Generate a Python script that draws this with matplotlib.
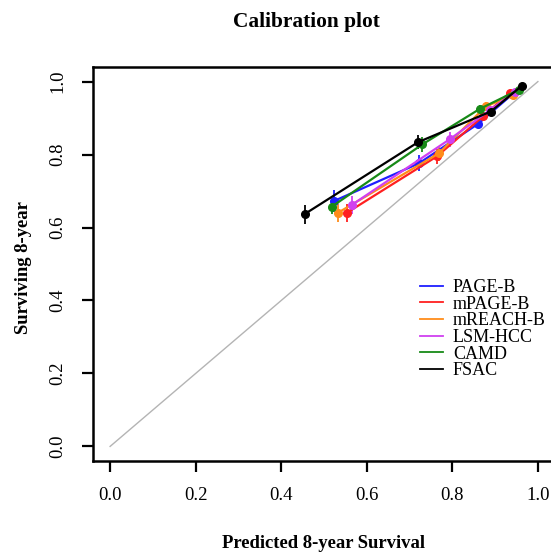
import matplotlib
matplotlib.use('Agg')
import matplotlib.pyplot as plt

plt.rcParams['font.family'] = ['Liberation Serif', 'DejaVu Serif']

# models shown in the legend (order as in legend)
models = ['PAGE-B', 'mPAGE-B', 'mREACH-B', 'LSM-HCC', 'CAMD', 'FSAC']
colors = ['#1f1fff', '#ff2020', '#ff8c1a', '#d040f0', '#178a17', 'black']

# predicted survival (x) and observed survival (y) per risk group
pred_pageb = [0.524, 0.722, 0.860, 0.940]
obs_pageb = [0.673, 0.776, 0.884, 0.965]
err_pageb = [0.031, 0.022, 0.012, 0.007]

pred_mpageb = [0.553, 0.764, 0.872, 0.935]
obs_mpageb = [0.640, 0.795, 0.905, 0.970]
err_mpageb = [0.024, 0.020, 0.012, 0.007]

pred_mreachb = [0.532, 0.768, 0.878, 0.942]
obs_mreachb = [0.640, 0.803, 0.932, 0.962]
err_mreachb = [0.025, 0.020, 0.012, 0.007]

pred_lsmhcc = [0.565, 0.794, 0.888, 0.946]
obs_lsmhcc = [0.662, 0.842, 0.922, 0.972]
err_lsmhcc = [0.024, 0.020, 0.012, 0.007]

pred_camd = [0.518, 0.730, 0.864, 0.956]
obs_camd = [0.657, 0.828, 0.925, 0.978]
err_camd = [0.020, 0.020, 0.012, 0.007]

pred_fsac = [0.455, 0.720, 0.890, 0.962]
obs_fsac = [0.637, 0.834, 0.918, 0.988]
err_fsac = [0.026, 0.020, 0.012, 0.006]

preds = [pred_pageb, pred_mpageb, pred_mreachb, pred_lsmhcc, pred_camd, pred_fsac]
obs = [obs_pageb, obs_mpageb, obs_mreachb, obs_lsmhcc, obs_camd, obs_fsac]
errs = [err_pageb, err_mpageb, err_mreachb, err_lsmhcc, err_camd, err_fsac]

ticks = [0.0, 0.2, 0.4, 0.6, 0.8, 1.0]
tick_labels = ['0.0', '0.2', '0.4', '0.6', '0.8', '1.0']

fig = plt.figure(figsize=(5.51, 5.56), dpi=100)
ax = fig.add_axes([93 / 551, 1 - 461 / 556, 462 / 551, 394 / 556])

# reference line
ax.plot([0, 1], [0, 1], color='#b4b4b4', lw=1.0, zorder=1)

handles = []
for name, c, x, y, e in zip(models, colors, preds, obs, errs):
    ax.errorbar(x, y, yerr=e, fmt='none', ecolor=c, elinewidth=1.3, capsize=0, zorder=2)
    ax.plot(x, y, color=c, lw=1.6, marker='o', markersize=5.5, zorder=3)
    h, = ax.plot([], [], color=c, lw=1.3)
    handles.append(h)

ax.set_xlim(-0.04, 1.04)
ax.set_ylim(-0.04, 1.04)
ax.set_xticks(ticks)
ax.set_xticklabels(tick_labels)
ax.set_yticks(ticks)
ax.set_yticklabels(tick_labels, rotation=90, va='center')
ax.tick_params(direction='out', length=8, width=1.6, labelsize=13.5, pad=11)
for s in ax.spines.values():
    s.set_linewidth(1.8)

leg = ax.legend(handles, models, loc='upper left', bbox_to_anchor=(0.708, 0.462),
                frameon=False, fontsize=13, handlelength=1.25, handletextpad=0.57,
                labelspacing=-0.02, borderaxespad=0, borderpad=0)

fig.text(306 / 551, 1 - 22 / 556, 'Calibration plot', ha='center', va='center',
         fontsize=15.4, fontweight='bold')
fig.text(324 / 551, 1 - 543 / 556, 'Predicted 8-year Survival', ha='center', va='center',
         fontsize=13.4, fontweight='bold')
fig.text(24 / 551, 1 - 268 / 556, 'Surviving 8-year', ha='center', va='center',
         rotation=90, fontsize=13.4, fontweight='bold')

fig.savefig('out.png', dpi=100)
